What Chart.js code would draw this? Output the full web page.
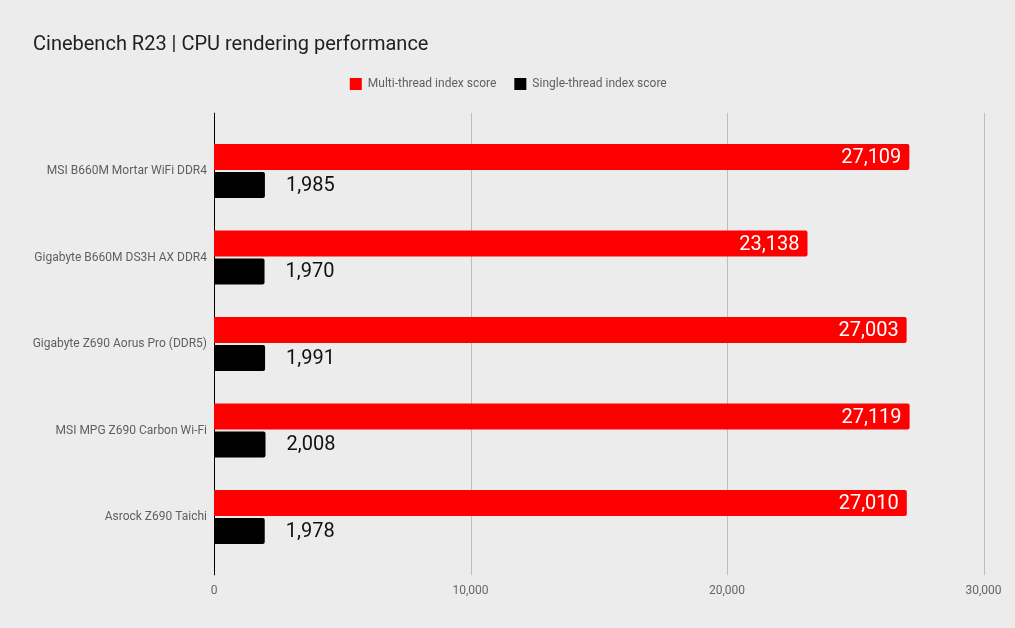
<!DOCTYPE html>
<html>
<head>
<meta charset="utf-8">
<script src="https://cdn.jsdelivr.net/npm/chart.js@4"></script>
<style>
  html, body { margin: 0; padding: 0; background: #ececec; }
  #wrap { width: 1015px; height: 628px; }
</style>
</head>
<body>
<div id="wrap"><canvas id="myChart"></canvas></div>
<script>
var boards = ["MSI B660M Mortar WiFi DDR4", "Gigabyte B660M DS3H AX DDR4", "Gigabyte Z690 Aorus Pro (DDR5)", "MSI MPG Z690 Carbon Wi-Fi", "Asrock Z690 Taichi"];
var multiThread = [27109, 23138, 27003, 27119, 27010];
var singleThread = [1985, 1970, 1991, 2008, 1978];
var xTicks = [0, 10000, 20000, 30000];

window.onload = function () {
    var fmt = function (v) { return v.toLocaleString("en-US"); };

    // extra room under the legend
    var legendGap = {
        id: "legendGap",
        beforeInit: function (chart) {
            var origFit = chart.legend.fit;
            chart.legend.fit = function () {
                origFit.bind(chart.legend)();
                this.height += 27.75;
            };
        }
    };

    // grid lines run a bit past the category band, like the original
    var gridPlugin = {
        id: "gridExt",
        beforeDatasetsDraw: function (chart) {
            var ctx = chart.ctx, area = chart.chartArea, x = chart.scales.x;
            ctx.save();
            ctx.lineWidth = 1;
            xTicks.forEach(function (t) {
                var px = Math.round(x.getPixelForValue(t)) + 0.5;
                ctx.strokeStyle = t === 0 ? "#000000" : "#bdbdbd";
                ctx.beginPath();
                ctx.moveTo(px, area.top - 15);
                ctx.lineTo(px, area.bottom + 15);
                ctx.stroke();
            });
            ctx.restore();
        }
    };

    // value labels: white inside red bars, black after black bars
    var labelPlugin = {
        id: "barLabels",
        afterDatasetsDraw: function (chart) {
            var ctx = chart.ctx;
            ctx.save();
            ctx.font = "20px Roboto";
            ctx.textBaseline = "middle";
            chart.data.datasets.forEach(function (ds, i) {
                chart.getDatasetMeta(i).data.forEach(function (bar, j) {
                    if (i === 0) {
                        ctx.fillStyle = "#ffffff";
                        ctx.textAlign = "right";
                        ctx.fillText(fmt(ds.data[j]), bar.x - 8, bar.y + 1);
                    } else {
                        ctx.fillStyle = "#111111";
                        ctx.textAlign = "left";
                        ctx.fillText(fmt(ds.data[j]), bar.x + 21, bar.y + 1);
                    }
                });
            });
            ctx.restore();
        }
    };

    var ctx = document.getElementById("myChart").getContext("2d");
    var chart = new Chart(ctx, {
        type: "bar",
        data: {
            labels: boards,
            datasets: [
                {
                    label: "Multi-thread index score",
                    data: multiThread,
                    backgroundColor: "#ff0000",
                    borderRadius: 2,
                    categoryPercentage: 0.647,
                    barPercentage: 0.93
                },
                {
                    label: "Single-thread index score",
                    data: singleThread,
                    backgroundColor: "#000000",
                    borderRadius: 2,
                    categoryPercentage: 0.647,
                    barPercentage: 0.93
                }
            ]
        },
        options: {
            indexAxis: "y",
            responsive: true,
            maintainAspectRatio: false,
            animation: false,
            layout: {
                padding: { left: 33, right: 31.5, top: 0, bottom: 0 }
            },
            plugins: {
                title: {
                    display: true,
                    text: "Cinebench R23 | CPU rendering performance",
                    align: "start",
                    color: "#212121",
                    font: { family: "Roboto", size: 20, weight: "normal" },
                    padding: { top: 33, bottom: 3 }
                },
                legend: {
                    display: true,
                    position: "top",
                    align: "center",
                    labels: {
                        color: "#616161",
                        font: { family: "Roboto", size: 12 },
                        boxWidth: 12,
                        boxHeight: 12,
                        padding: 18
                    }
                },
                tooltip: { enabled: false }
            },
            scales: {
                x: {
                    min: 0,
                    max: 30000,
                    afterBuildTicks: function (scale) {
                        scale.ticks = xTicks.map(function (v) { return { value: v }; });
                    },
                    afterFit: function (scale) {
                        scale.height = 67.75;
                        scale.paddingLeft = 0;
                        scale.paddingRight = 0;
                    },
                    grid: { display: false, drawTicks: false },
                    border: { display: false },
                    ticks: {
                        color: "#666666",
                        font: { family: "Roboto", size: 12 },
                        padding: 24,
                        callback: function (v) { return fmt(v); }
                    }
                },
                y: {
                    afterFit: function (scale) { scale.width = 181; },
                    grid: { display: false, drawTicks: false },
                    border: { display: false },
                    ticks: {
                        color: "#5f5f5f",
                        font: { family: "Roboto", size: 12 },
                        padding: 7
                    }
                }
            }
        },
        plugins: [legendGap, gridPlugin, labelPlugin]
    });
};
</script>
</body>
</html>
